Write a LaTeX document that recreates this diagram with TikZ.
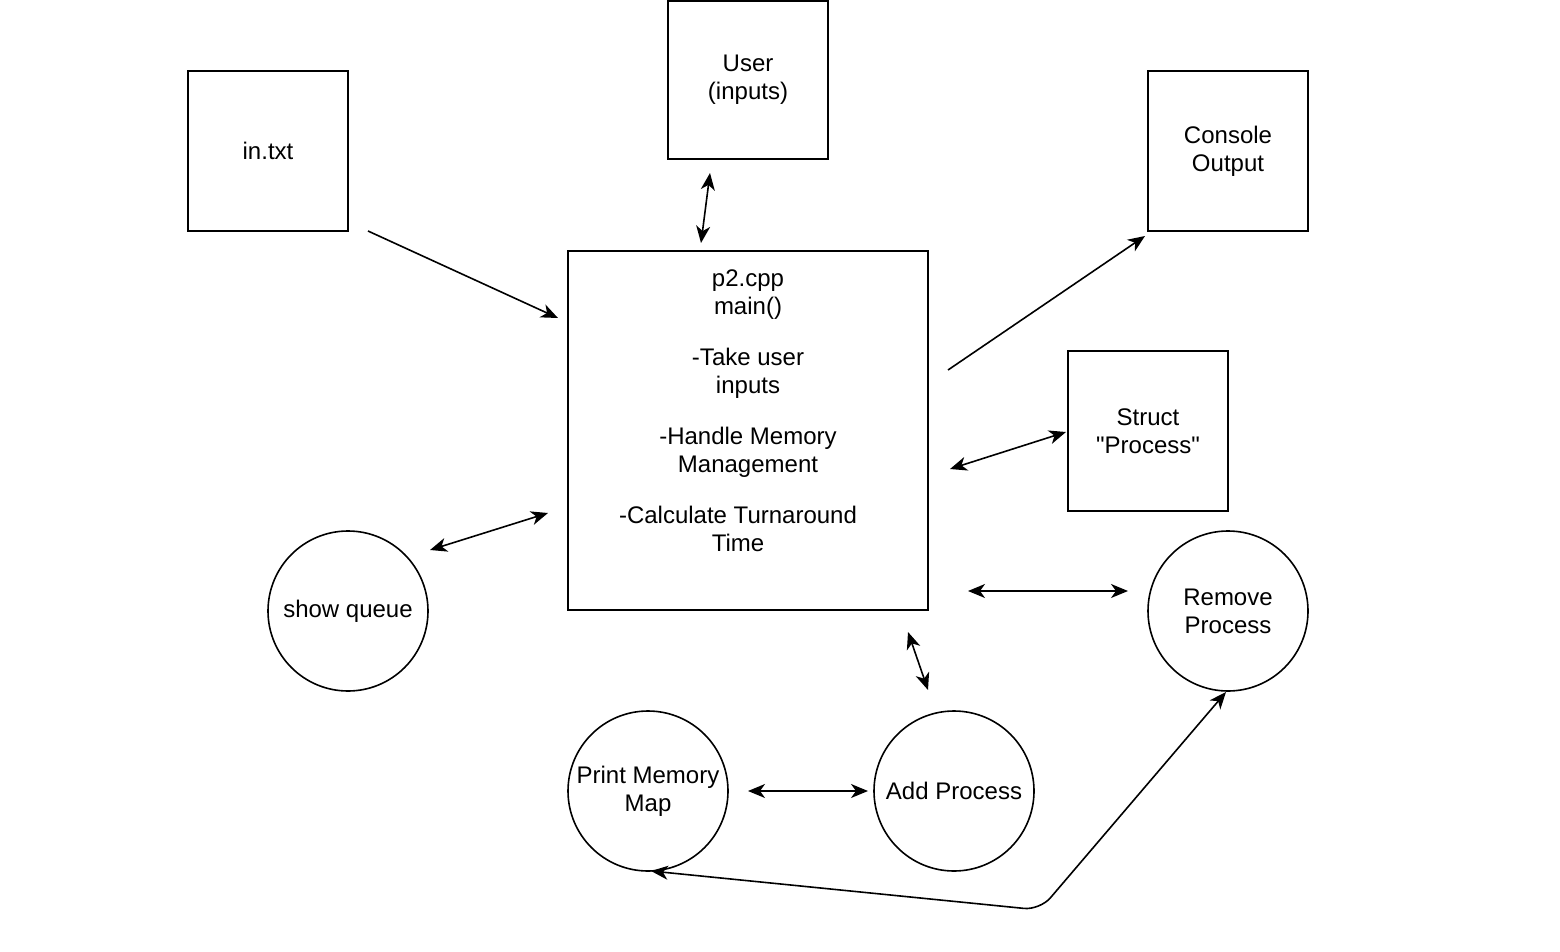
\documentclass[tikz,border=0pt]{standalone}
\usepackage{fontspec}
\setmainfont{Liberation Sans}[Ligatures=TeXOff]
\usetikzlibrary{arrows.meta}
\begin{document}
\begin{tikzpicture}[x=1pt,y=-1pt,
  every node/.style={font=\fontsize{24}{28}\selectfont, align=center},
  box/.style={draw, line width=1.6pt, minimum width=160pt, minimum height=160pt, inner sep=0pt},
  bigbox/.style={draw, line width=1.6pt, minimum width=360pt, minimum height=359pt, inner sep=0pt},
  bubble/.style={draw, circle, line width=1.6pt, minimum size=160pt, inner sep=0pt},
  tip/.tip={Stealth[length=17pt,width=14pt,inset=5pt]},
  link/.style={line width=1.6pt, -tip},
  dlink/.style={line width=1.6pt, tip-tip}]
\useasboundingbox (0,0) rectangle (1560,952);

% boxes
\node[box] (intxt) at (268,151) {in.txt};
\node[box, minimum height=158pt] (user) at (748,80) {User\\(inputs)};
\node[box] (console) at (1228,151) {Console\\Output};
\node[box] (struct) at (1148,431) {Struct\\"Process"};
\node[bigbox] (main) at (748,430.5) {};
\node[anchor=north] (maintext) at (748,266) {p2.cpp\\main()\\[23pt]-Take user\\inputs\\[23pt]-Handle Memory\\Management\\[23pt]\hspace*{-20pt}-Calculate Turnaround\\\hspace*{-20pt}Time};

% circles
\node[bubble] (queue) at (348,611) {show queue};
\node[bubble] (remove) at (1228,611) {Remove\\Process};
\node[bubble] (print) at (648,791) {Print Memory\\Map};
\node[bubble] (add) at (954,791) {Add Process};

% free connector ends
\coordinate (inA) at (368,231);
\coordinate (inB) at (558,318);
\coordinate (usA) at (710,173);
\coordinate (usB) at (701,243);
\coordinate (coA) at (948,370);
\coordinate (coB) at (1145,236);
\coordinate (stA) at (950,469);
\coordinate (stB) at (1066,432);
\coordinate (quA) at (430,550);
\coordinate (quB) at (548,513);
\coordinate (reA) at (968,591);
\coordinate (reB) at (1128,591);
\coordinate (adA) at (908,632);
\coordinate (adB) at (928,690);
\coordinate (prA) at (748,791);
\coordinate (prB) at (868,791);
\coordinate (loopA) at (1226,692);
\coordinate (loopC) at (1040,910);
\coordinate (loopB) at (651,871);

% connectors
\draw[link] (inA) -- (inB);
\draw[dlink] (usA) -- (usB);
\draw[link] (coA) -- (coB);
\draw[dlink] (stA) -- (stB);
\draw[dlink] (quA) -- (quB);
\draw[dlink] (reA) -- (reB);
\draw[dlink] (adA) -- (adB);
\draw[dlink] (prA) -- (prB);
\draw[dlink, rounded corners=16pt] (loopA) -- (loopC) -- (loopB);
\end{tikzpicture}
\end{document}
